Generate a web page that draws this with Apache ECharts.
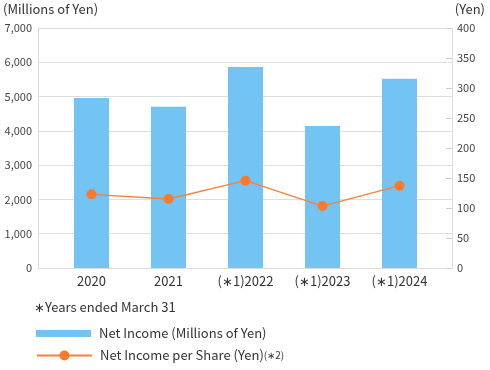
<!DOCTYPE html>
<html>
<head>
<meta charset="utf-8">
<script src="https://cdn.jsdelivr.net/npm/echarts@6/dist/echarts.min.js"></script>
<style>html,body{margin:0;padding:0;background:#fff}#c{width:490px;height:370px}</style>
</head>
<body>
<div id="c"></div>
<script>
var categories = ['2020', '2021', '(∗1)2022', '(∗1)2023', '(∗1)2024'];
var netIncome = [4960, 4700, 5860, 4140, 5520];
var netIncomePerShare = [122.8, 115, 145.5, 103.3, 137.2];
var leftTicks = { min: 0, max: 7000, interval: 1000 };
var rightTicks = { min: 0, max: 400, interval: 50 };

var FONT = '"Noto Sans CJK JP", "Noto Sans", sans-serif';
var chart = echarts.init(document.getElementById('c'));
var tStyle = { fontSize: 13, fontWeight: 'normal', color: '#333', fontFamily: FONT };
chart.setOption({
  animation: false,
  textStyle: { fontFamily: FONT },
  title: [
    { text: '(Millions of Yen)', left: 3, top: 3, padding: 0, textStyle: tStyle },
    { text: '(Yen)', right: 5, top: 3, padding: 0, textStyle: tStyle },
    { text: '∗Years ended March 31', left: 34, top: 301, padding: 0, textStyle: tStyle }
  ],
  legend: [
    {
      data: [{ name: 'Net Income (Millions of Yen)', icon: 'rect' }], orient: 'vertical', left: 36, top: 327, padding: 0,
      itemWidth: 55, itemHeight: 7, selectedMode: false,
      textStyle: { fontSize: 13, color: '#333', fontFamily: FONT, padding: [0, 0, 0, 3] }
    },
    {
      data: ['Net Income per Share (Yen)'], orient: 'vertical', left: 36, top: 349, padding: 0,
      itemWidth: 55, itemHeight: 12.5, selectedMode: false,
      formatter: function (n) { return n + '{s|(∗2)}'; },
      textStyle: { fontSize: 13, color: '#333', fontFamily: FONT, padding: [0, 0, 0, 3],
        rich: { s: { fontSize: 10, color: '#333', fontFamily: FONT } } }
    }
  ],
  grid: [
    { left: 38, right: 38, top: 28, bottom: 102 },
    { left: 53, right: 52, top: 28, bottom: 102 }
  ],
  xAxis: [
    { gridIndex: 0, type: 'value', min: 0, max: 1, axisLine: { show: true, lineStyle: { color: '#dcdcdc' } },
      axisTick: { show: false }, axisLabel: { show: false }, splitLine: { show: false } },
    { gridIndex: 1, type: 'category', data: categories, axisLine: { show: false }, axisTick: { show: false },
      axisLabel: { fontSize: 13, color: '#333', margin: 7, fontFamily: FONT } }
  ],
  yAxis: [
    { gridIndex: 0, type: 'value', min: leftTicks.min, max: leftTicks.max, interval: leftTicks.interval, position: 'left',
      axisLine: { show: true, lineStyle: { color: '#dcdcdc' } }, axisTick: { show: false },
      axisLabel: { fontSize: 11, color: '#444', margin: 6, fontFamily: FONT,
        formatter: function (v) { return v.toLocaleString('en-US'); } },
      splitLine: { lineStyle: { color: '#dedede', width: 1 } } },
    { gridIndex: 0, type: 'value', min: rightTicks.min, max: rightTicks.max, interval: rightTicks.interval, position: 'right',
      axisLine: { show: true, lineStyle: { color: '#dcdcdc' } },
      axisTick: { show: true, inside: true, length: 6, lineStyle: { color: '#cfcfcf' } },
      axisLabel: { fontSize: 11, color: '#444', margin: 5, fontFamily: FONT }, splitLine: { show: false } },
    { gridIndex: 1, type: 'value', min: leftTicks.min, max: leftTicks.max, show: false, splitLine: { show: false } },
    { gridIndex: 1, type: 'value', min: rightTicks.min, max: rightTicks.max, show: false, splitLine: { show: false } }
  ],
  series: [
    { name: 'Net Income (Millions of Yen)', type: 'bar', xAxisIndex: 1, yAxisIndex: 2, data: netIncome,
      barWidth: 35, itemStyle: { color: '#73c3f3' } },
    { name: 'Net Income per Share (Yen)', type: 'line', xAxisIndex: 1, yAxisIndex: 3, data: netIncomePerShare,
      symbol: 'circle', symbolSize: 10, lineStyle: { color: '#f5813c', width: 1.3 },
      itemStyle: { color: '#fd7a2d' } }
  ]
});
</script>
</body>
</html>
